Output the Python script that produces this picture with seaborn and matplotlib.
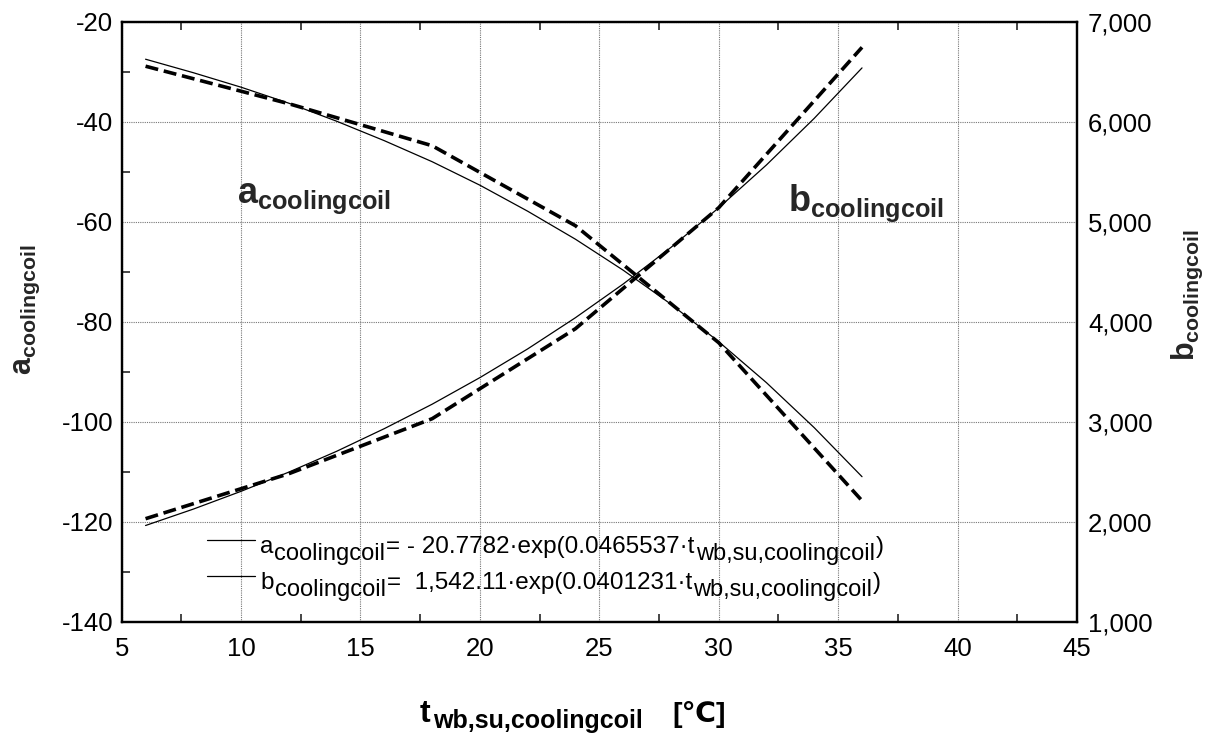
import matplotlib
matplotlib.use("Agg")
import matplotlib.pyplot as plt
import matplotlib.ticker as mticker
import matplotlib.transforms as mtransforms
from matplotlib.lines import Line2D
import seaborn as sns

# ---- data ----
x_fit = [6, 8, 10, 12, 14, 16, 18, 20, 22, 24, 26, 28, 30, 32, 34, 36]
a_fit = [-27.5, -30.2, -33.1, -36.3, -39.9, -43.8, -48.0, -52.7, -57.9,
         -63.5, -69.7, -76.5, -84.0, -92.2, -101.2, -111.0]
b_fit = [1962, 2126, 2304, 2496, 2704, 2931, 3175, 3441, 3728,
         4040, 4377, 4743, 5139, 5568, 6034, 6538]

x_data = [6, 12, 18, 24, 30, 36]
a_data = [-28.9, -36.4, -44.8, -60.8, -84.2, -115.8]
b_data = [2030, 2480, 3030, 3930, 5140, 6744]

x_ticks = [5, 10, 15, 20, 25, 30, 35, 40, 45]
a_ticks = [-140, -120, -100, -80, -60, -40, -20]
b_ticks = [1000, 2000, 3000, 4000, 5000, 6000, 7000]

# legend text pieces: (main, subscript, main, subscript, main)
legend_runs = [
    ["a", "coolingcoil", "= - 20.7782·exp(0.0465537·t", "wb,su,coolingcoil", ")"],
    ["b", "coolingcoil", "=  1,542.11·exp(0.0401231·t", "wb,su,coolingcoil", ")"],
]
legend_plain = ["a_coolingcoil= - 20.7782·exp(0.0465537·t_wb,su,coolingcoil)",
                "b_coolingcoil=  1,542.11·exp(0.0401231·t_wb,su,coolingcoil)"]
xlabel_runs = ["t", "wb,su,coolingcoil", "[℃]"]

FONTS = ["Liberation Sans", "DejaVu Sans"]
sns.set_theme(style="white")
plt.rcParams["font.family"] = FONTS
plt.rcParams["mathtext.fontset"] = "custom"
plt.rcParams["mathtext.rm"] = "Liberation Sans"
plt.rcParams["mathtext.bf"] = "Liberation Sans:bold"
plt.rcParams["mathtext.it"] = "Liberation Sans:italic"
plt.rcParams["axes.unicode_minus"] = False

fig = plt.figure(figsize=(12.18, 7.36), dpi=100)
W, H = 1218.0, 736.0
ax = fig.add_axes([0.0999, 0.1553, 0.7843, 0.8152])
ax2 = ax.twinx()

dash_kw = dict(color="black", linewidth=2.6, dashes=(3.6, 1.6))
solid_kw = dict(color="black", linewidth=0.9)

sns.lineplot(x=x_fit, y=a_fit, ax=ax, **solid_kw)
sns.lineplot(x=x_data, y=a_data, ax=ax, **dash_kw)
sns.lineplot(x=x_fit, y=b_fit, ax=ax2, **solid_kw)
sns.lineplot(x=x_data, y=b_data, ax=ax2, **dash_kw)

ax.set_xlim(5, 45)
ax.set_ylim(-140, -20)
ax2.set_ylim(1000, 7000)
ax.set_xticks(x_ticks)
ax.set_yticks(a_ticks)
ax2.set_yticks(b_ticks)
ax.xaxis.set_minor_locator(mticker.MultipleLocator(2.5))
ax.yaxis.set_minor_locator(mticker.MultipleLocator(10))
ax2.yaxis.set_major_formatter(mticker.FuncFormatter(lambda v, p: f"{v:,.0f}"))

ax.grid(True, which="major", linestyle=(0, (1, 1)), color="#777777", linewidth=0.8)
ax2.grid(False)
ax.set_axisbelow(True)

for a in (ax, ax2):
    for s in a.spines.values():
        s.set_linewidth(1.6)
        s.set_color("black")

ax.tick_params(axis="x", which="major", direction="in", length=0, labelsize=18.5, pad=11, colors="black")
ax.tick_params(axis="x", which="minor", direction="in", length=6, width=1.2, top=True, bottom=True)
ax.tick_params(axis="y", which="major", direction="in", length=0, labelsize=18.5, pad=6, colors="black")
ax.tick_params(axis="y", which="minor", direction="in", length=6, width=1.2, left=True)
ax2.tick_params(axis="y", which="both", direction="in", length=0, labelsize=18.5, pad=8, colors="black")

ax.set_xlabel("")
ax.set_ylabel(r"$\mathbf{a_{coolingcoil}}$", fontsize=22, fontweight="bold")
ax.yaxis.set_label_coords(-0.0834, 0.52)
ax2.set_ylabel(r"$\mathbf{b_{coolingcoil}}$", fontsize=22, fontweight="bold", rotation=90)
ax2.yaxis.set_label_coords(1.0974, 0.545)

ax.text(0.1207, 0.698, r"$\mathbf{a_{coolingcoil}}$", transform=ax.transAxes,
        fontsize=26, fontweight="bold", va="baseline", ha="left")
ax.text(0.6975, 0.685, r"$\mathbf{b_{coolingcoil}}$", transform=ax.transAxes,
        fontsize=26, fontweight="bold", va="baseline", ha="left")

handles = [Line2D([], [], **solid_kw), Line2D([], [], **solid_kw)]
leg = ax.legend(handles, legend_plain, loc="center left", bbox_to_anchor=(0.0893, 0.1037),
                frameon=False, fontsize=16.5, handlelength=2.1, handletextpad=0.2,
                borderpad=0, borderaxespad=0, labelspacing=0.6)
for t in leg.get_texts():
    t.set_alpha(0)

fig.canvas.draw()
renderer = fig.canvas.get_renderer()


def draw_runs(x_disp, y_disp, runs):
    """runs: list of (text, size, dy_px, weight, gap_px) placed left to right on a baseline."""
    dx = 0.0
    for s, size, dy, weight, gap in runs:
        dx += gap
        tr = mtransforms.offset_copy(fig.transFigure, fig=fig, x=dx, y=dy, units="dots")
        t = fig.text(x_disp / W, y_disp / H, s, transform=tr, fontsize=size,
                     fontweight=weight, va="baseline", ha="left", family=FONTS, color="black")
        dx += t.get_window_extent(renderer).width


# legend labels, main text and subscripts at nearly the same size
for line, pieces in zip(leg.get_lines(), legend_runs):
    bb = line.get_window_extent(renderer)
    x0 = bb.x1 + 5
    base = (bb.y0 + bb.y1) / 2 - 13
    m1, s1, m2, s2, m3 = pieces
    draw_runs(x0, base, [(m1, 17.5, 0, "normal", 0),
                         (s1, 17, -7, "normal", 1),
                         (m2, 17.5, 0, "normal", 1),
                         (s2, 17, -7, "normal", 1),
                         (m3, 17.5, 0, "normal", 1)])

# x axis label
draw_runs(420, H - 721.7, [(xlabel_runs[0], 23, 0, "bold", 0),
                           (xlabel_runs[1], 18, -6, "bold", 2)])
draw_runs(672, H - 722, [(xlabel_runs[2], 20.5, 0, "bold", 0)])

fig.savefig("out.png", dpi=100)
